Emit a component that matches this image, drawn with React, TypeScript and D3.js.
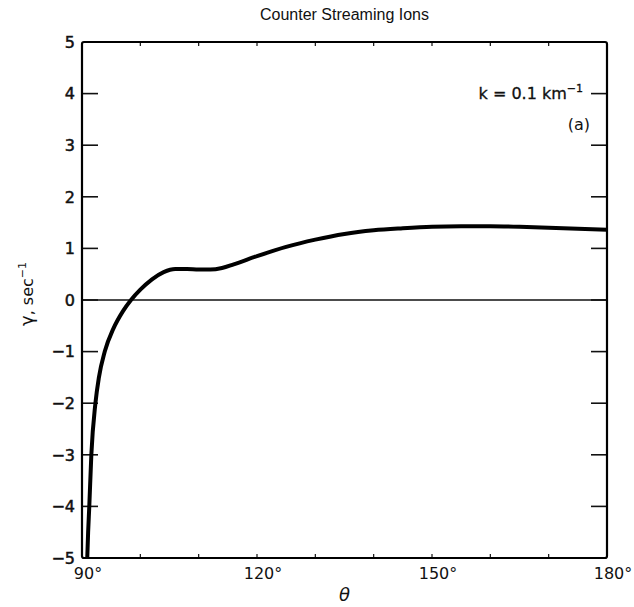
import React from "react";
import * as d3 from "d3";

const thetaDeg = [90.9, 91.05, 91.25, 91.6, 92.3, 92.9, 93.9, 95.4, 97, 98.4, 100, 102, 104, 106, 108, 110, 112, 114, 116, 120, 125, 130, 135, 140, 145, 150, 155, 160, 165, 170, 175, 180];
const gammaVals = [-5, -4.5, -4, -3, -2, -1.5, -1, -0.55, -0.22, 0, 0.2, 0.4, 0.54, 0.6, 0.6, 0.59, 0.59, 0.62, 0.69, 0.85, 1.03, 1.17, 1.28, 1.35, 1.39, 1.42, 1.43, 1.43, 1.42, 1.4, 1.38, 1.36];
const yTicks = [5, 4, 3, 2, 1, 0, -1, -2, -3, -4, -5];
const xLabelTicks = [90, 120, 150, 180];
const xMinorTicks = [100, 110, 120, 130, 140, 150, 160, 170];

const W = 634, H = 607;
const L = 82, R = 607, T = 42, B = 558;
const SANS = "'Liberation Sans', Arial, sans-serif";
const DJ = "'DejaVu Sans', sans-serif";

export default function App() {
  const x = d3.scaleLinear().domain([90, 180]).range([L, R]);
  const y = d3.scaleLinear().domain([-5, 5]).range([B, T]);
  const line = d3
    .line<number>()
    .x((_, i) => x(thetaDeg[i]))
    .y((d) => y(d))
    .curve(d3.curveMonotoneX);
  const fmtY = (v: number) => (v < 0 ? "\u2212" + Math.abs(v) : String(v));

  return (
    <svg width={W} height={H} style={{ position: "absolute", left: 0, top: 0, background: "#fff" }}>
      <rect x={0} y={0} width={W} height={H} fill="#fff" />
      <text x={(L + R) / 2} y={20} textAnchor="middle" fontFamily={SANS} fontSize={16} fill="#111">
        Counter Streaming Ions
      </text>
      {/* zero line */}
      <line x1={L} x2={R} y1={y(0)} y2={y(0)} stroke="#111" strokeWidth={1.5} />
      {/* y ticks */}
      {yTicks.filter((v) => v > -5 && v < 5).map((v) => (
        <g key={"yt" + v}>
          <line x1={L} x2={L + 16} y1={y(v)} y2={y(v)} stroke="#111" strokeWidth={1.6} />
          <line x1={R - 16} x2={R} y1={y(v)} y2={y(v)} stroke="#111" strokeWidth={1.6} />
        </g>
      ))}
      {/* x minor ticks */}
      {xMinorTicks.map((v) => (
        <g key={"xt" + v}>
          <line x1={x(v)} x2={x(v)} y1={B} y2={B - 4} stroke="#111" strokeWidth={1.2} />
          <line x1={x(v)} x2={x(v)} y1={T} y2={T + 4} stroke="#111" strokeWidth={1.2} />
        </g>
      ))}
      {/* curve */}
      <path d={line(gammaVals) || ""} fill="none" stroke="#000" strokeWidth={4} strokeLinejoin="round" />
      {/* frame */}
      <rect x={L} y={T} width={R - L} height={B - T} fill="none" stroke="#000" strokeWidth={2.2} rx={2} />
      {/* y tick labels */}
      {yTicks.map((v) => (
        <text key={"yl" + v} x={L - 7} y={y(v)} dy="0.36em" textAnchor="end" fontFamily={DJ} fontSize={16} fill="#111" stroke="#111" strokeWidth={0.5}>
          {fmtY(v)}
        </text>
      ))}
      {/* x tick labels */}
      {xLabelTicks.map((v) => (
        <text key={"xl" + v} x={x(v) + 6} y={B + 21} textAnchor="middle" fontFamily={DJ} fontSize={16} fill="#111">
          {v + "\u00B0"}
        </text>
      ))}
      <text x={(L + R) / 2} y={B + 43} textAnchor="middle" fontFamily={DJ} fontSize={18} fontStyle="italic" fill="#111">
        θ
      </text>
      <text transform={`translate(33,${y(0) - 6}) rotate(-90)`} textAnchor="middle" fontFamily={DJ} fontSize={16} fill="#111">
        <tspan fontSize={18}>γ</tspan>, sec<tspan dy={-7} fontSize={11}>−1</tspan>
      </text>
      <text x={583} y={y(4.0)} dy="0.36em" textAnchor="end" fontFamily={DJ} fontSize={16} fill="#111" stroke="#111" strokeWidth={0.3}>
        k = 0.1 km<tspan dy={-7} fontSize={11}>−1</tspan>
      </text>
      <text x={590} y={y(3.4)} dy="0.36em" textAnchor="end" fontFamily={DJ} fontSize={16} fill="#111">
        (a)
      </text>
    </svg>
  );
}
